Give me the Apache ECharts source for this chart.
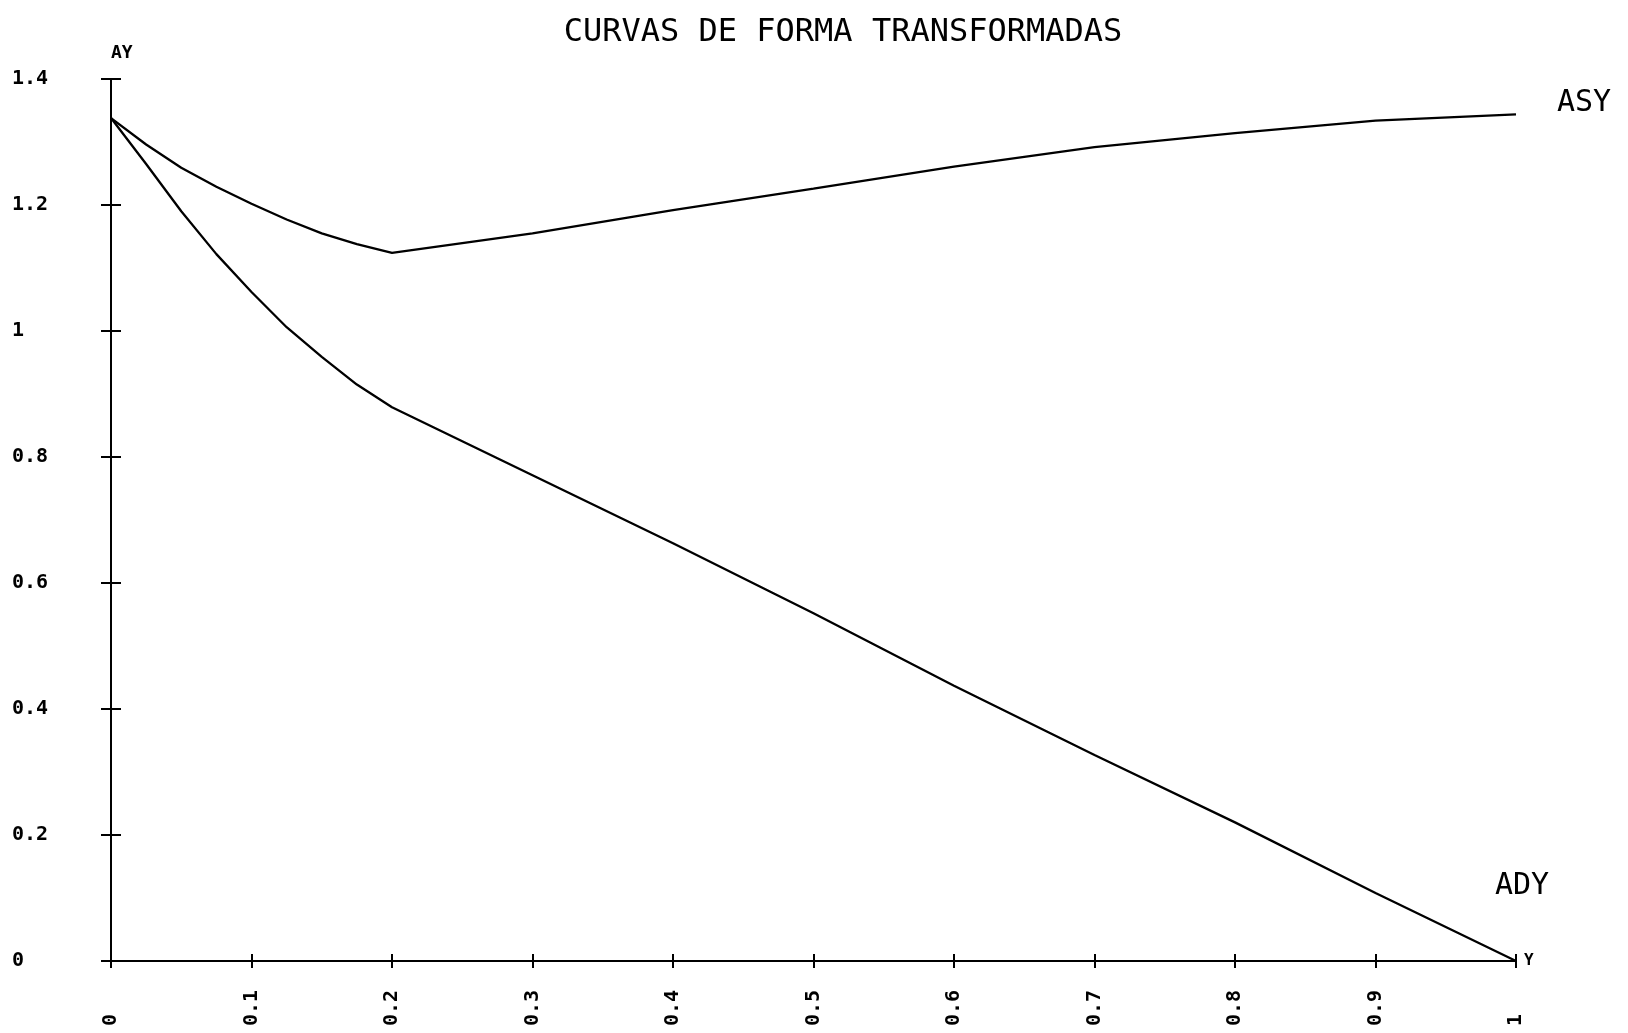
<!DOCTYPE html>
<html>
<head>
<meta charset="utf-8">
<script src="https://cdn.jsdelivr.net/npm/echarts@6/dist/echarts.min.js"></script>
<style>
html,body{margin:0;padding:0;background:#fff;}
#chart{width:1628px;height:1033px;}
</style>
</head>
<body>
<div id="chart"></div>
<script>
// Data
const xPos = [0, 0.025, 0.05, 0.075, 0.1, 0.125, 0.15, 0.175, 0.2, 0.3, 0.4, 0.5, 0.6, 0.7, 0.8, 0.9, 1.0];
const asyValues = [1.338, 1.296, 1.259, 1.229, 1.202, 1.177, 1.155, 1.138, 1.124, 1.155, 1.192, 1.226, 1.261, 1.292, 1.314, 1.334, 1.344];
const adyValues = [1.338, 1.265, 1.190, 1.122, 1.062, 1.006, 0.959, 0.915, 0.879, 0.771, 0.663, 0.552, 0.437, 0.327, 0.220, 0.108, 0.0];
const xTickLabels = ['0', '0.1', '0.2', '0.3', '0.4', '0.5', '0.6', '0.7', '0.8', '0.9', '1'];
const yTickLabels = ['0', '0.2', '0.4', '0.6', '0.8', '1', '1.2', '1.4'];
const titleText = 'CURVAS DE FORMA TRANSFORMADAS';

const FONT = 'DejaVu Sans Mono';
const black = '#000';

const asyData = xPos.map((x, i) => [x, asyValues[i]]);
const adyData = xPos.map((x, i) => [x, adyValues[i]]);

const chart = echarts.init(document.getElementById('chart'), null, {renderer: 'canvas'});

const baseX = {
  type: 'value', min: 0, max: 1, interval: 0.1, position: 'bottom',
  splitLine: {show: false}
};
const baseY = {
  type: 'value', min: 0, max: 1.4, interval: 0.2, position: 'left',
  splitLine: {show: false}
};

chart.setOption({
  animation: false,
  backgroundColor: '#fff',
  title: {
    text: titleText,
    left: 838, top: 12, textAlign: 'center',
    textStyle: {fontFamily: FONT, fontSize: 32, fontWeight: 'normal', color: black}
  },
  grid: {left: 111, right: 112, top: 79, bottom: 72, containLabel: false},
  xAxis: [
    Object.assign({}, baseX, {
      name: 'Y', nameLocation: 'end', nameGap: 8,
      nameTextStyle: {fontFamily: FONT, fontSize: 16, fontWeight: 'bold', color: black, verticalAlign: 'middle'},
      axisLine: {show: true, lineStyle: {color: black, width: 2}},
      axisTick: {show: true, length: 7, lineStyle: {color: black, width: 2}},
      axisLabel: {
        show: true, rotate: 90, align: 'left', verticalAlign: 'middle', margin: 65,
        showMinLabel: true, showMaxLabel: true,
        fontFamily: FONT, fontSize: 20, fontWeight: 'bold', color: black,
        formatter: v => xTickLabels[Math.round(v * 10)]
      }
    }),
    Object.assign({}, baseX, {
      axisLine: {show: false},
      axisTick: {show: true, inside: true, length: 7, lineStyle: {color: black, width: 2}},
      axisLabel: {show: false}
    })
  ],
  yAxis: [
    Object.assign({}, baseY, {
      name: 'AY', nameLocation: 'end', nameGap: 17,
      nameTextStyle: {fontFamily: FONT, fontSize: 18, fontWeight: 'bold', color: black, align: 'left'},
      axisLine: {show: true, lineStyle: {color: black, width: 2}},
      axisTick: {show: true, length: 10, lineStyle: {color: black, width: 2}},
      axisLabel: {
        show: true, align: 'left', margin: 99,
        showMinLabel: true, showMaxLabel: true,
        fontFamily: FONT, fontSize: 20, fontWeight: 'bold', color: black,
        formatter: v => yTickLabels[Math.round(v * 5)]
      }
    }),
    Object.assign({}, baseY, {
      axisLine: {show: false},
      axisTick: {show: true, inside: true, length: 10, lineStyle: {color: black, width: 2}},
      axisLabel: {show: false}
    })
  ],
  series: [
    {
      name: 'ASY', type: 'line', xAxisIndex: 0, yAxisIndex: 0,
      data: asyData, showSymbol: false, smooth: false,
      lineStyle: {color: black, width: 2.3},
      itemStyle: {color: black},
      endLabel: {
        show: true, formatter: 'ASY', distance: 0, offset: [41, -11],
        fontFamily: FONT, fontSize: 30, color: black
      }
    },
    {
      name: 'ADY', type: 'line', xAxisIndex: 0, yAxisIndex: 0,
      data: adyData, showSymbol: false, smooth: false,
      lineStyle: {color: black, width: 2.3},
      itemStyle: {color: black},
      endLabel: {
        show: true, formatter: 'ADY', distance: 0, offset: [-21, -75],
        fontFamily: FONT, fontSize: 30, color: black
      }
    }
  ]
});
</script>
</body>
</html>
